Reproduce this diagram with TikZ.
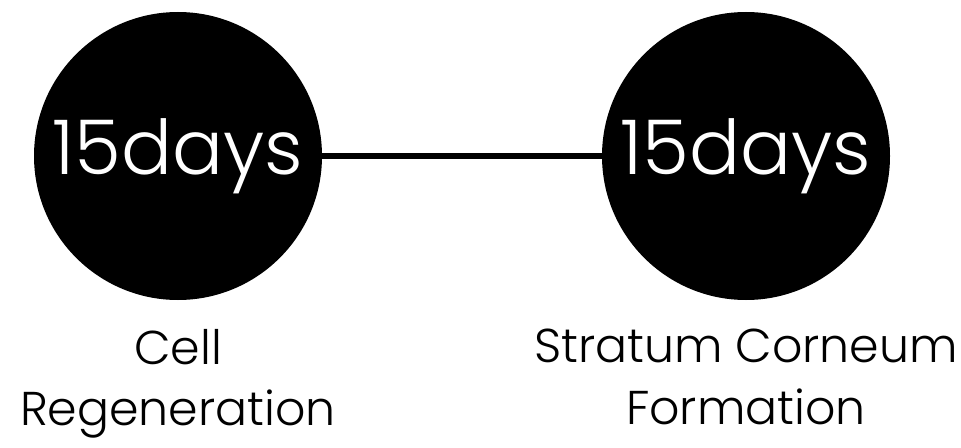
\documentclass[tikz,border=0pt]{standalone}
\usepackage{fontspec}
\setmainfont{Poppins Light}
\usetikzlibrary{positioning}

\begin{document}
\begin{tikzpicture}[
dayscircle/.style={circle,fill=black,minimum size=5.76cm,inner sep=0pt,
  text=white,font=\fontsize{43}{45}\selectfont},
stagelabel/.style={align=center,font=\fontsize{27}{35}\selectfont}
]
\useasboundingbox (0,0) rectangle (19.22,8.94);

% The circles
\node[dayscircle] (cell) at (3.56,5.82) {15days};
\node[dayscircle] (stratum) at (14.92,5.82) {15days};

% The line
\draw[line width=3.8pt] (cell.east) -- (stratum.west);

% The labels
\node[stagelabel,below=0.45cm of cell] (celllabel) {Cell\\Regeneration};
\node[stagelabel,below=0.45cm of stratum] (stratumlabel) {Stratum Corneum\\Formation};
\end{tikzpicture}
\end{document}
